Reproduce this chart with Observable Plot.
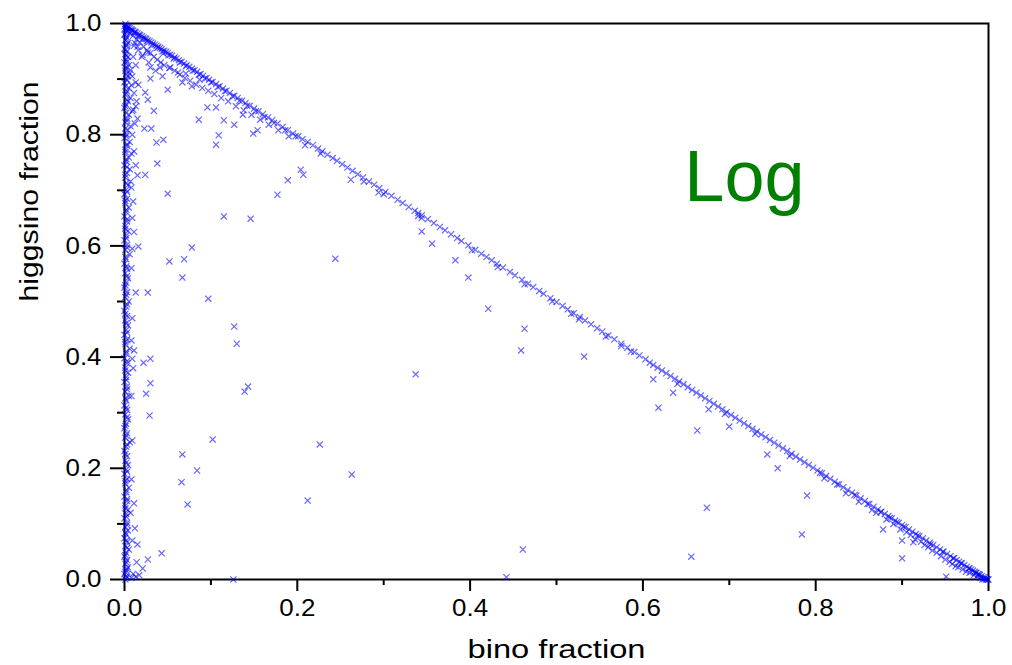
<!DOCTYPE html>
<html>
<head>
<meta charset="utf-8">
<script src="https://cdn.jsdelivr.net/npm/d3@7"></script>
<script src="https://cdn.jsdelivr.net/npm/@observablehq/plot@0.6"></script>
<style>
  html, body { margin: 0; padding: 0; background: #ffffff; }
  #chart svg { display: block; }
</style>
</head>
<body>
<div id="chart"></div>
<script>
// ---- Data ----
// Points lying on the bino + higgsino = 1 edge
const diagonalPoints = [
  [0.002,0.996],[0.004,0.994],[0.005,0.993],[0.006,0.991],[0.008,0.990],[0.009,0.988],[0.010,0.987],[0.012,0.985],
  [0.013,0.984],[0.015,0.982],[0.017,0.980],[0.018,0.979],[0.020,0.977],[0.022,0.975],[0.024,0.973],[0.025,0.972],
  [0.027,0.970],[0.029,0.968],[0.031,0.966],[0.033,0.964],[0.035,0.962],[0.037,0.960],[0.039,0.958],[0.041,0.956],
  [0.043,0.954],[0.046,0.951],[0.048,0.949],[0.050,0.947],[0.053,0.944],[0.055,0.942],[0.058,0.939],[0.060,0.937],
  [0.063,0.934],[0.066,0.931],[0.069,0.928],[0.072,0.925],[0.075,0.922],[0.078,0.919],[0.081,0.916],[0.084,0.913],
  [0.088,0.909],[0.091,0.906],[0.095,0.902],[0.098,0.899],[0.102,0.895],[0.106,0.891],[0.110,0.887],[0.114,0.883],
  [0.118,0.879],[0.122,0.875],[0.127,0.870],[0.131,0.866],[0.136,0.861],[0.140,0.857],[0.145,0.852],[0.150,0.847],
  [0.155,0.842],[0.160,0.837],[0.166,0.831],[0.171,0.826],[0.177,0.820],[0.183,0.814],[0.189,0.808],[0.195,0.802],
  [0.006,0.982],[0.010,0.978],[0.014,0.971],[0.018,0.966],[0.011,0.960],[0.022,0.958],[0.026,0.952],[0.016,0.952],
  [0.030,0.947],[0.034,0.940],[0.020,0.940],[0.038,0.935],[0.042,0.930],[0.028,0.930],[0.046,0.925],[0.052,0.920],
  [0.058,0.915],[0.036,0.915],[0.064,0.908],[0.070,0.902],[0.044,0.905],[0.076,0.897],[0.083,0.890],[0.090,0.884],
  [0.097,0.879],[0.104,0.873],[0.112,0.866],[0.120,0.860],[0.129,0.851],[0.138,0.844],[0.147,0.836],[0.157,0.827],
  [0.167,0.818],[0.178,0.808],[0.190,0.797],
  [0.003,0.992],[0.007,0.986],[0.011,0.983],[0.016,0.977],[0.021,0.972],[0.026,0.968],[0.032,0.961],[0.038,0.956],
  [0.044,0.950],[0.051,0.943],[0.057,0.937],[0.064,0.930],[0.071,0.923],[0.079,0.915],[0.086,0.908],[0.093,0.901],
  [0.100,0.894],[0.108,0.886],[0.116,0.878],[0.125,0.869],[0.133,0.861],[0.142,0.852],[0.152,0.842],[0.162,0.832],
  [0.173,0.821],[0.186,0.808],[0.198,0.797],
  [0.201,0.797],[0.206,0.792],[0.212,0.787],[0.218,0.781],[0.224,0.775],[0.229,0.770],[0.235,0.764],[0.241,0.758],
  [0.246,0.753],[0.252,0.747],[0.258,0.741],[0.264,0.735],[0.270,0.729],[0.276,0.723],[0.283,0.716],[0.289,0.710],
  [0.295,0.704],[0.302,0.697],[0.309,0.690],[0.316,0.683],[0.322,0.677],[0.329,0.670],[0.336,0.663],[0.340,0.659],
  [0.344,0.655],[0.351,0.648],[0.358,0.641],[0.365,0.634],[0.371,0.628],[0.378,0.621],[0.385,0.614],[0.390,0.609],
  [0.398,0.601],[0.406,0.593],[0.413,0.586],[0.419,0.580],[0.425,0.574],[0.431,0.568],[0.438,0.561],[0.446,0.553],
  [0.452,0.547],[0.460,0.539],[0.467,0.532],[0.473,0.526],[0.480,0.519],[0.485,0.514],[0.493,0.506],[0.500,0.499],
  [0.507,0.492],[0.513,0.486],[0.520,0.479],[0.527,0.472],[0.533,0.466],[0.540,0.459],[0.547,0.452],[0.553,0.446],
  [0.560,0.439],[0.567,0.432],[0.575,0.424],[0.582,0.417],[0.590,0.409],[0.596,0.403],
  [0.277,0.716],[0.300,0.693],[0.340,0.654],[0.402,0.592],[0.344,0.650],[0.432,0.562],[0.463,0.531],[0.495,0.500],
  [0.517,0.478],[0.526,0.468],[0.557,0.437],[0.575,0.420],[0.586,0.410],
  [0.603,0.396],[0.608,0.390],[0.612,0.386],[0.617,0.381],[0.622,0.376],[0.627,0.371],[0.632,0.366],[0.637,0.361],
  [0.642,0.356],[0.647,0.351],[0.652,0.346],[0.657,0.341],[0.662,0.336],[0.667,0.331],[0.672,0.326],[0.677,0.321],
  [0.682,0.316],[0.687,0.311],[0.692,0.306],[0.697,0.301],[0.702,0.296],[0.707,0.291],[0.712,0.286],[0.717,0.281],
  [0.722,0.276],[0.727,0.271],[0.732,0.266],[0.737,0.261],[0.742,0.256],[0.747,0.251],[0.752,0.246],[0.757,0.241],
  [0.762,0.236],[0.767,0.231],[0.772,0.226],[0.777,0.221],[0.782,0.216],[0.787,0.211],[0.792,0.206],[0.797,0.201],
  [0.802,0.196],[0.807,0.191],[0.812,0.186],[0.817,0.181],[0.822,0.176],[0.827,0.171],[0.832,0.166],[0.837,0.161],
  [0.842,0.156],[0.847,0.151],[0.852,0.146],[0.857,0.141],[0.862,0.136],[0.867,0.131],[0.872,0.126],[0.876,0.122],
  [0.880,0.118],[0.884,0.114],[0.888,0.110],[0.892,0.106],[0.896,0.102],[0.900,0.098],[0.904,0.094],[0.908,0.090],
  [0.912,0.086],[0.916,0.082],[0.920,0.078],[0.924,0.074],[0.928,0.070],[0.932,0.066],[0.936,0.062],[0.940,0.058],
  [0.944,0.054],[0.948,0.050],[0.952,0.046],[0.956,0.042],[0.960,0.038],[0.963,0.035],[0.966,0.032],[0.969,0.029],
  [0.972,0.026],[0.975,0.023],[0.978,0.020],[0.980,0.018],[0.982,0.016],[0.984,0.014],[0.986,0.012],[0.988,0.010],
  [0.990,0.008],[0.992,0.006],[0.994,0.004],[0.996,0.003],[0.998,0.001],[1.000,0.000],
  [0.640,0.352],[0.695,0.298],[0.730,0.262],[0.770,0.222],[0.810,0.182],[0.835,0.155],[0.850,0.140],[0.865,0.125],
  [0.870,0.120],[0.882,0.108],[0.890,0.100],[0.898,0.090],[0.905,0.085],[0.910,0.080],[0.915,0.072],[0.922,0.068],
  [0.926,0.062],[0.930,0.058],[0.935,0.052],[0.940,0.048],[0.945,0.042],[0.950,0.036],[0.955,0.032],[0.958,0.028],
  [0.962,0.024],[0.965,0.022],[0.970,0.018],[0.974,0.014],[0.978,0.012],[0.983,0.008],[0.987,0.006],[0.991,0.003],
  [0.995,0.001],[0.997,0.000],[0.993,0.000],[0.999,0.000],
  [0.805,0.192],[0.825,0.171],[0.845,0.152],[0.860,0.136],[0.875,0.121],[0.886,0.111],[0.894,0.103],[0.902,0.095],
  [0.918,0.079],[0.933,0.063],[0.947,0.050],[0.959,0.038],[0.968,0.029],[0.977,0.020],[0.985,0.012],[0.989,0.009]
];

// Points crowded along bino fraction ≈ 0
const axisPoints = [
  [0.001,0.000],[0.003,0.004],[0.000,0.010],[0.002,0.016],[0.004,0.022],[0.001,0.028],[0.003,0.035],[0.000,0.041],
  [0.002,0.048],[0.005,0.054],[0.001,0.060],[0.003,0.067],[0.000,0.074],[0.002,0.081],[0.004,0.088],[0.001,0.095],
  [0.003,0.102],[0.000,0.110],[0.002,0.118],[0.004,0.125],[0.001,0.133],[0.003,0.141],[0.000,0.149],[0.002,0.157],
  [0.005,0.165],[0.001,0.173],[0.003,0.181],[0.000,0.190],[0.002,0.198],[0.004,0.206],[0.001,0.214],[0.003,0.222],
  [0.000,0.231],[0.002,0.239],[0.006,0.247],[0.001,0.255],[0.003,0.263],[0.000,0.272],[0.002,0.280],[0.004,0.288],
  [0.001,0.297],[0.003,0.305],[0.000,0.313],[0.002,0.322],[0.005,0.330],[0.001,0.338],[0.003,0.347],[0.000,0.355],
  [0.002,0.364],[0.004,0.372],[0.001,0.381],[0.003,0.389],[0.000,0.398],[0.002,0.406],[0.006,0.415],[0.001,0.423],
  [0.003,0.432],[0.000,0.440],[0.002,0.449],[0.004,0.457],[0.001,0.466],[0.003,0.474],[0.000,0.483],[0.002,0.491],
  [0.005,0.500],[0.001,0.508],[0.003,0.517],[0.000,0.525],[0.002,0.534],[0.004,0.542],[0.001,0.551],[0.003,0.559],
  [0.000,0.568],[0.002,0.576],[0.006,0.585],[0.001,0.593],[0.003,0.602],[0.000,0.610],[0.002,0.619],[0.004,0.627],
  [0.001,0.636],[0.003,0.644],[0.000,0.653],[0.002,0.661],[0.005,0.669],[0.001,0.677],[0.003,0.685],[0.000,0.693],
  [0.002,0.701],[0.004,0.709],[0.007,0.716],[0.001,0.723],[0.003,0.731],[0.006,0.738],[0.000,0.745],[0.002,0.752],
  [0.005,0.759],[0.008,0.766],[0.001,0.773],[0.003,0.780],[0.006,0.787],[0.000,0.794],[0.002,0.801],[0.004,0.808],
  [0.007,0.815],[0.001,0.822],[0.003,0.829],[0.005,0.836],[0.009,0.842],[0.000,0.848],[0.002,0.854],[0.004,0.860],
  [0.007,0.866],[0.001,0.872],[0.003,0.878],[0.005,0.884],[0.008,0.889],[0.000,0.894],[0.002,0.900],[0.004,0.905],
  [0.006,0.910],[0.001,0.915],[0.003,0.920],[0.005,0.925],[0.000,0.930],[0.002,0.935],[0.004,0.940],[0.001,0.945],
  [0.003,0.950],[0.000,0.955],[0.002,0.960],[0.004,0.965],[0.001,0.970],[0.003,0.975],[0.000,0.980],[0.002,0.985],
  [0.001,0.990],[0.000,0.995],[0.001,0.999],
  [0.012,0.965],[0.015,0.958],[0.010,0.940],[0.013,0.925],[0.009,0.905],[0.016,0.890],[0.011,0.875],[0.014,0.860],
  [0.010,0.845],[0.012,0.820],[0.009,0.800],[0.011,0.770],[0.013,0.745],[0.008,0.705],[0.010,0.680],[0.009,0.650],
  [0.011,0.625],[0.008,0.560],[0.009,0.470],[0.008,0.430],[0.010,0.380],[0.008,0.330],[0.009,0.250],[0.008,0.180],
  [0.007,0.120],[0.009,0.070],[0.010,0.010],[0.008,0.003],
  [0.002,0.006],[0.001,0.013],[0.003,0.019],[0.002,0.031],[0.001,0.044],[0.003,0.057],[0.002,0.070],[0.001,0.084],
  [0.003,0.098],[0.002,0.113],[0.001,0.128],[0.003,0.145],[0.002,0.161],[0.001,0.177],[0.003,0.194],[0.002,0.210],
  [0.001,0.226],[0.003,0.243],[0.002,0.259],[0.001,0.276],[0.003,0.292],[0.002,0.309],[0.001,0.326],[0.003,0.342],
  [0.002,0.359],[0.001,0.376],[0.003,0.393],[0.002,0.410],[0.001,0.427],[0.003,0.444],[0.002,0.461],[0.001,0.478],
  [0.003,0.495],[0.002,0.512],[0.001,0.529],[0.003,0.546],[0.002,0.563],[0.001,0.580],[0.003,0.597],[0.002,0.614],
  [0.001,0.631],[0.003,0.648],[0.002,0.665],[0.001,0.681],[0.003,0.697],[0.002,0.713],[0.001,0.728],[0.003,0.742],
  [0.002,0.756],[0.001,0.769],[0.003,0.783],[0.002,0.797],[0.001,0.811],[0.003,0.825],[0.002,0.839],[0.001,0.851],
  [0.003,0.863],[0.002,0.875],[0.001,0.887],[0.003,0.898],[0.002,0.909],[0.001,0.920],[0.003,0.931],[0.002,0.942],
  [0.001,0.952],[0.003,0.962],[0.002,0.972],[0.001,0.982],[0.003,0.988],[0.002,0.994]
];

// Isolated points inside the triangle
const interiorPoints = [
  [0.024,0.876],[0.027,0.863],[0.050,0.881],[0.034,0.843],[0.013,0.851],[0.015,0.829],[0.086,0.827],[0.096,0.849],
  [0.106,0.849],[0.115,0.826],[0.127,0.818],[0.137,0.836],[0.149,0.802],[0.154,0.808],[0.109,0.799],[0.106,0.782],
  [0.023,0.811],[0.031,0.811],[0.037,0.786],[0.045,0.791],[0.038,0.748],[0.015,0.727],[0.024,0.728],[0.050,0.694],
  [0.115,0.653],[0.146,0.649],[0.177,0.692],[0.189,0.718],[0.204,0.737],[0.207,0.728],[0.078,0.597],[0.069,0.576],
  [0.052,0.572],[0.067,0.543],[0.244,0.577],[0.013,0.516],[0.027,0.516],[0.097,0.505],[0.009,0.595],[0.016,0.599],
  [0.067,0.894],[0.078,0.887],[0.030,0.901],[0.013,0.894],[0.007,0.916],[0.030,0.921],[0.041,0.921],[0.053,0.921],
  [0.062,0.912],[0.071,0.910],[0.021,0.943],[0.027,0.948],[0.045,0.946],[0.087,0.899],
  [0.209,0.781],[0.227,0.766],[0.262,0.719],[0.294,0.696],
  [0.127,0.455],[0.130,0.424],[0.022,0.390],[0.030,0.397],[0.030,0.353],[0.025,0.334],[0.029,0.295],[0.143,0.347],
  [0.139,0.338],[0.102,0.252],[0.067,0.225],[0.084,0.196],[0.066,0.175],[0.073,0.135],[0.226,0.243],[0.263,0.189],
  [0.212,0.142],[0.012,0.092],[0.015,0.063],[0.043,0.047],[0.027,0.036],[0.014,0.031],[0.021,0.020],[0.011,0.137],
  [0.011,0.412],[0.009,0.397],[0.126,0.000],[0.013,0.005],[0.017,0.008],
  [0.421,0.487],[0.463,0.451],[0.459,0.412],[0.532,0.401],[0.337,0.369],[0.612,0.360],[0.635,0.336],[0.618,0.309],
  [0.663,0.268],[0.461,0.054],[0.442,0.004],[0.656,0.041],
  [0.676,0.306],[0.700,0.275],[0.744,0.225],[0.756,0.200],[0.790,0.151],[0.674,0.129],[0.784,0.081],[0.878,0.090],
  [0.900,0.070],[0.900,0.038],[0.913,0.067],[0.951,0.005],
  [0.344,0.626],[0.356,0.604],[0.383,0.574],[0.398,0.543]
];

// Axes
const majorTicks = [0, 0.2, 0.4, 0.6, 0.8, 1.0];
const majorTickLabels = ["0.0", "0.2", "0.4", "0.6", "0.8", "1.0"];
const minorTicks = [0.1, 0.3, 0.5, 0.7, 0.9];
const xTitle = "bino fraction";
const yTitle = "higgsino fraction";
const annotations = [{label: "Log", x: 0.648, y: 0.722}];

// ---- Chart ----
const allPoints = [...diagonalPoints, ...axisPoints, ...interiorPoints];
const font = "'Liberation Sans', Arial, Helvetica, sans-serif";
const labelOf = d => majorTickLabels[majorTicks.indexOf(d)];

const chart = Plot.plot({
  width: 1012,
  height: 665,
  marginLeft: 124,
  marginRight: 24,
  marginTop: 23,
  marginBottom: 86,
  style: {fontFamily: font, background: "#ffffff", color: "#000000"},
  x: {domain: [0, 1]},
  y: {domain: [0, 1]},
  marks: [
    Plot.frame({stroke: "#000000", strokeWidth: 2}),
    Plot.axisX({ticks: majorTicks, tickSize: 12, tickPadding: 7, tickFormat: labelOf, fontSize: 24, strokeWidth: 2, label: null}),
    Plot.axisX({ticks: minorTicks, tickSize: 6, tickFormat: () => "", strokeWidth: 2, label: null}),
    Plot.axisY({ticks: majorTicks, tickSize: 14, tickPadding: 9, tickFormat: labelOf, fontSize: 24, strokeWidth: 2, label: null}),
    Plot.axisY({ticks: minorTicks, tickSize: 7, tickFormat: () => "", strokeWidth: 2, label: null}),
    Plot.text([xTitle], {frameAnchor: "bottom", dy: 70, text: d => d, fontSize: 25, lineAnchor: "middle"}),
    Plot.text([yTitle], {frameAnchor: "left", dx: -95, rotate: -90, text: d => d, fontSize: 25, lineAnchor: "middle"}),
    Plot.text(annotations, {x: "x", y: "y", text: "label", fill: "#008000", fontSize: 72, textAnchor: "start", lineAnchor: "middle"}),
    Plot.dot(allPoints, {x: d => d[0], y: d => d[1], symbol: "times", r: 2.9, stroke: "#0000ff", strokeWidth: 1.2, strokeOpacity: 0.6})
  ]
});

// Slightly widen the axis texts to match the reference's glyph widths
chart.querySelectorAll('[aria-label="x-axis tick label"] text, [aria-label="y-axis tick label"] text').forEach(t => {
  if (t.textContent.trim() !== "") {
    t.setAttribute("textLength", "36");
    t.setAttribute("lengthAdjust", "spacingAndGlyphs");
  }
});
chart.querySelectorAll('[aria-label="text"] text').forEach(t => {
  const s = t.textContent;
  if (s === xTitle) { t.setAttribute("textLength", "178"); t.setAttribute("lengthAdjust", "spacingAndGlyphs"); }
  if (s === yTitle) { t.setAttribute("textLength", "220"); t.setAttribute("lengthAdjust", "spacingAndGlyphs"); }
});

document.getElementById("chart").appendChild(chart);
</script>
</body>
</html>
